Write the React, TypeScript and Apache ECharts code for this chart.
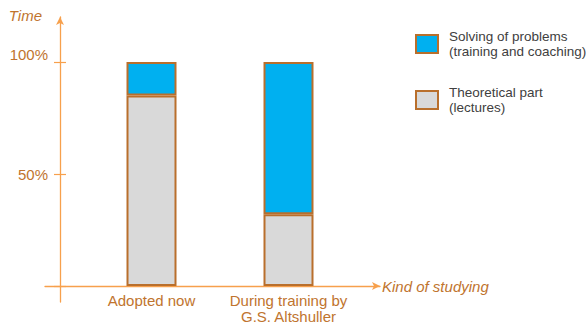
import React, { useEffect, useRef } from "react";
import * as echarts from "echarts";

const categories = ["Adopted now", "During training by\nG.S. Altshuller"];
const theoreticalValues = [85, 32];
const solvingValues = [15, 68];
const seriesNames = ["Theoretical part\n(lectures)", "Solving of problems\n(training and coaching)"];
const legendOrder = [seriesNames[1], seriesNames[0]];
const yTickLabels: Record<number, string> = { 50: "50%", 100: "100%" };
const axisTitles = { y: "Time", x: "Kind of studying" };

const AXIS_COLOR = "#F7A04C";
const TEXT_COLOR = "#C0742E";
const BORDER_COLOR = "#B96F2C";
const FONT = "Liberation Sans, Arial, sans-serif";

export default function App() {
  const ref = useRef<HTMLDivElement>(null);
  useEffect(() => {
    document.body.style.margin = "0";
    const chart = echarts.init(ref.current!, null, { renderer: "svg" });
    const option: any = {
      animation: false,
      backgroundColor: "#ffffff",
      grid: [
        { left: 83, top: 62, width: 274, height: 224 },
        { left: 45, top: 17, width: 335, height: 285 },
      ],
      legend: {
        data: legendOrder.map((n) => ({ name: n, icon: "rect" })),
        orient: "vertical",
        left: 410,
        top: 18,
        itemWidth: 22,
        itemHeight: 18,
        itemGap: 14,
        selectedMode: false,
        textStyle: {
          color: "#404040",
          fontSize: 13.5,
          lineHeight: 15,
          fontFamily: FONT,
          padding: [12, 0, 0, 6],
        },
      },
      xAxis: [
        {
          type: "category",
          gridIndex: 0,
          data: categories,
          axisLine: { show: false },
          axisTick: { show: false },
          axisLabel: {
            color: TEXT_COLOR,
            fontSize: 15,
            lineHeight: 16,
            fontFamily: FONT,
            margin: 6,
            interval: 0,
          },
        },
        {
          type: "value",
          gridIndex: 1,
          min: -15,
          max: 320,
          axisLine: {
            show: true,
            onZero: true,
            symbol: ["none", "arrow"],
            symbolSize: [6, 8],
            lineStyle: { color: AXIS_COLOR, width: 1.3 },
          },
          axisTick: { show: false },
          axisLabel: { show: false },
          splitLine: { show: false },
          name: axisTitles.x,
          nameLocation: "end",
          nameGap: 2,
          nameTextStyle: {
            color: TEXT_COLOR,
            fontStyle: "italic",
            fontSize: 15,
            fontFamily: FONT,
            align: "left",
            verticalAlign: "middle",
            padding: [26, 0, 0, 0],
          },
        },
      ],
      yAxis: [
        {
          type: "value",
          gridIndex: 0,
          min: 0,
          max: 100,
          interval: 50,
          offset: 23,
          position: "left",
          axisLine: { show: false },
          axisTick: { show: true, length: 6, lineStyle: { color: AXIS_COLOR, width: 1.2 } },
          splitLine: { show: false },
          axisLabel: {
            margin: 12,
            formatter: (v: number) => {
              const t = yTickLabels[v];
              if (!t) return "";
              return v === 100 ? "{hi|" + t + "}" : "{lo|" + t + "}";
            },
            rich: {
              hi: { color: TEXT_COLOR, fontSize: 15, fontFamily: FONT, padding: [0, 0, 16, 0] },
              lo: { color: TEXT_COLOR, fontSize: 15, fontFamily: FONT, padding: [0, 0, 0, 0] },
            },
          },
        },
        {
          type: "value",
          gridIndex: 0,
          min: 0,
          max: 100,
          interval: 50,
          offset: 23,
          position: "left",
          axisLine: { show: false },
          axisTick: { show: true, inside: true, length: 6, lineStyle: { color: AXIS_COLOR, width: 1.2 } },
          splitLine: { show: false },
          axisLabel: { show: false },
        },
        {
          type: "value",
          gridIndex: 1,
          min: -16,
          max: 269,
          axisLine: {
            show: true,
            onZero: true,
            symbol: ["none", "arrow"],
            symbolSize: [6, 8],
            lineStyle: { color: AXIS_COLOR, width: 1.3 },
          },
          axisTick: { show: false },
          axisLabel: { show: false },
          splitLine: { show: false },
          name: axisTitles.y,
          nameLocation: "end",
          nameGap: 2,
          nameTextStyle: {
            color: TEXT_COLOR,
            fontStyle: "italic",
            fontSize: 15,
            fontFamily: FONT,
            align: "right",
            verticalAlign: "middle",
            padding: [0, 18, 0, 0],
          },
        },
      ],
      series: [
        {
          name: seriesNames[0],
          type: "bar",
          xAxisIndex: 0,
          yAxisIndex: 0,
          stack: "total",
          barWidth: 50,
          data: theoreticalValues,
          itemStyle: { color: "#D9D9D9", borderColor: BORDER_COLOR, borderWidth: 2 },
        },
        {
          name: seriesNames[1],
          type: "bar",
          xAxisIndex: 0,
          yAxisIndex: 0,
          stack: "total",
          barWidth: 50,
          data: solvingValues,
          itemStyle: { color: "#00B0F0", borderColor: BORDER_COLOR, borderWidth: 2 },
        },
      ],
    };
    chart.setOption(option);
    return () => chart.dispose();
  }, []);
  return <div ref={ref} style={{ width: 587, height: 326 }} />;
}
